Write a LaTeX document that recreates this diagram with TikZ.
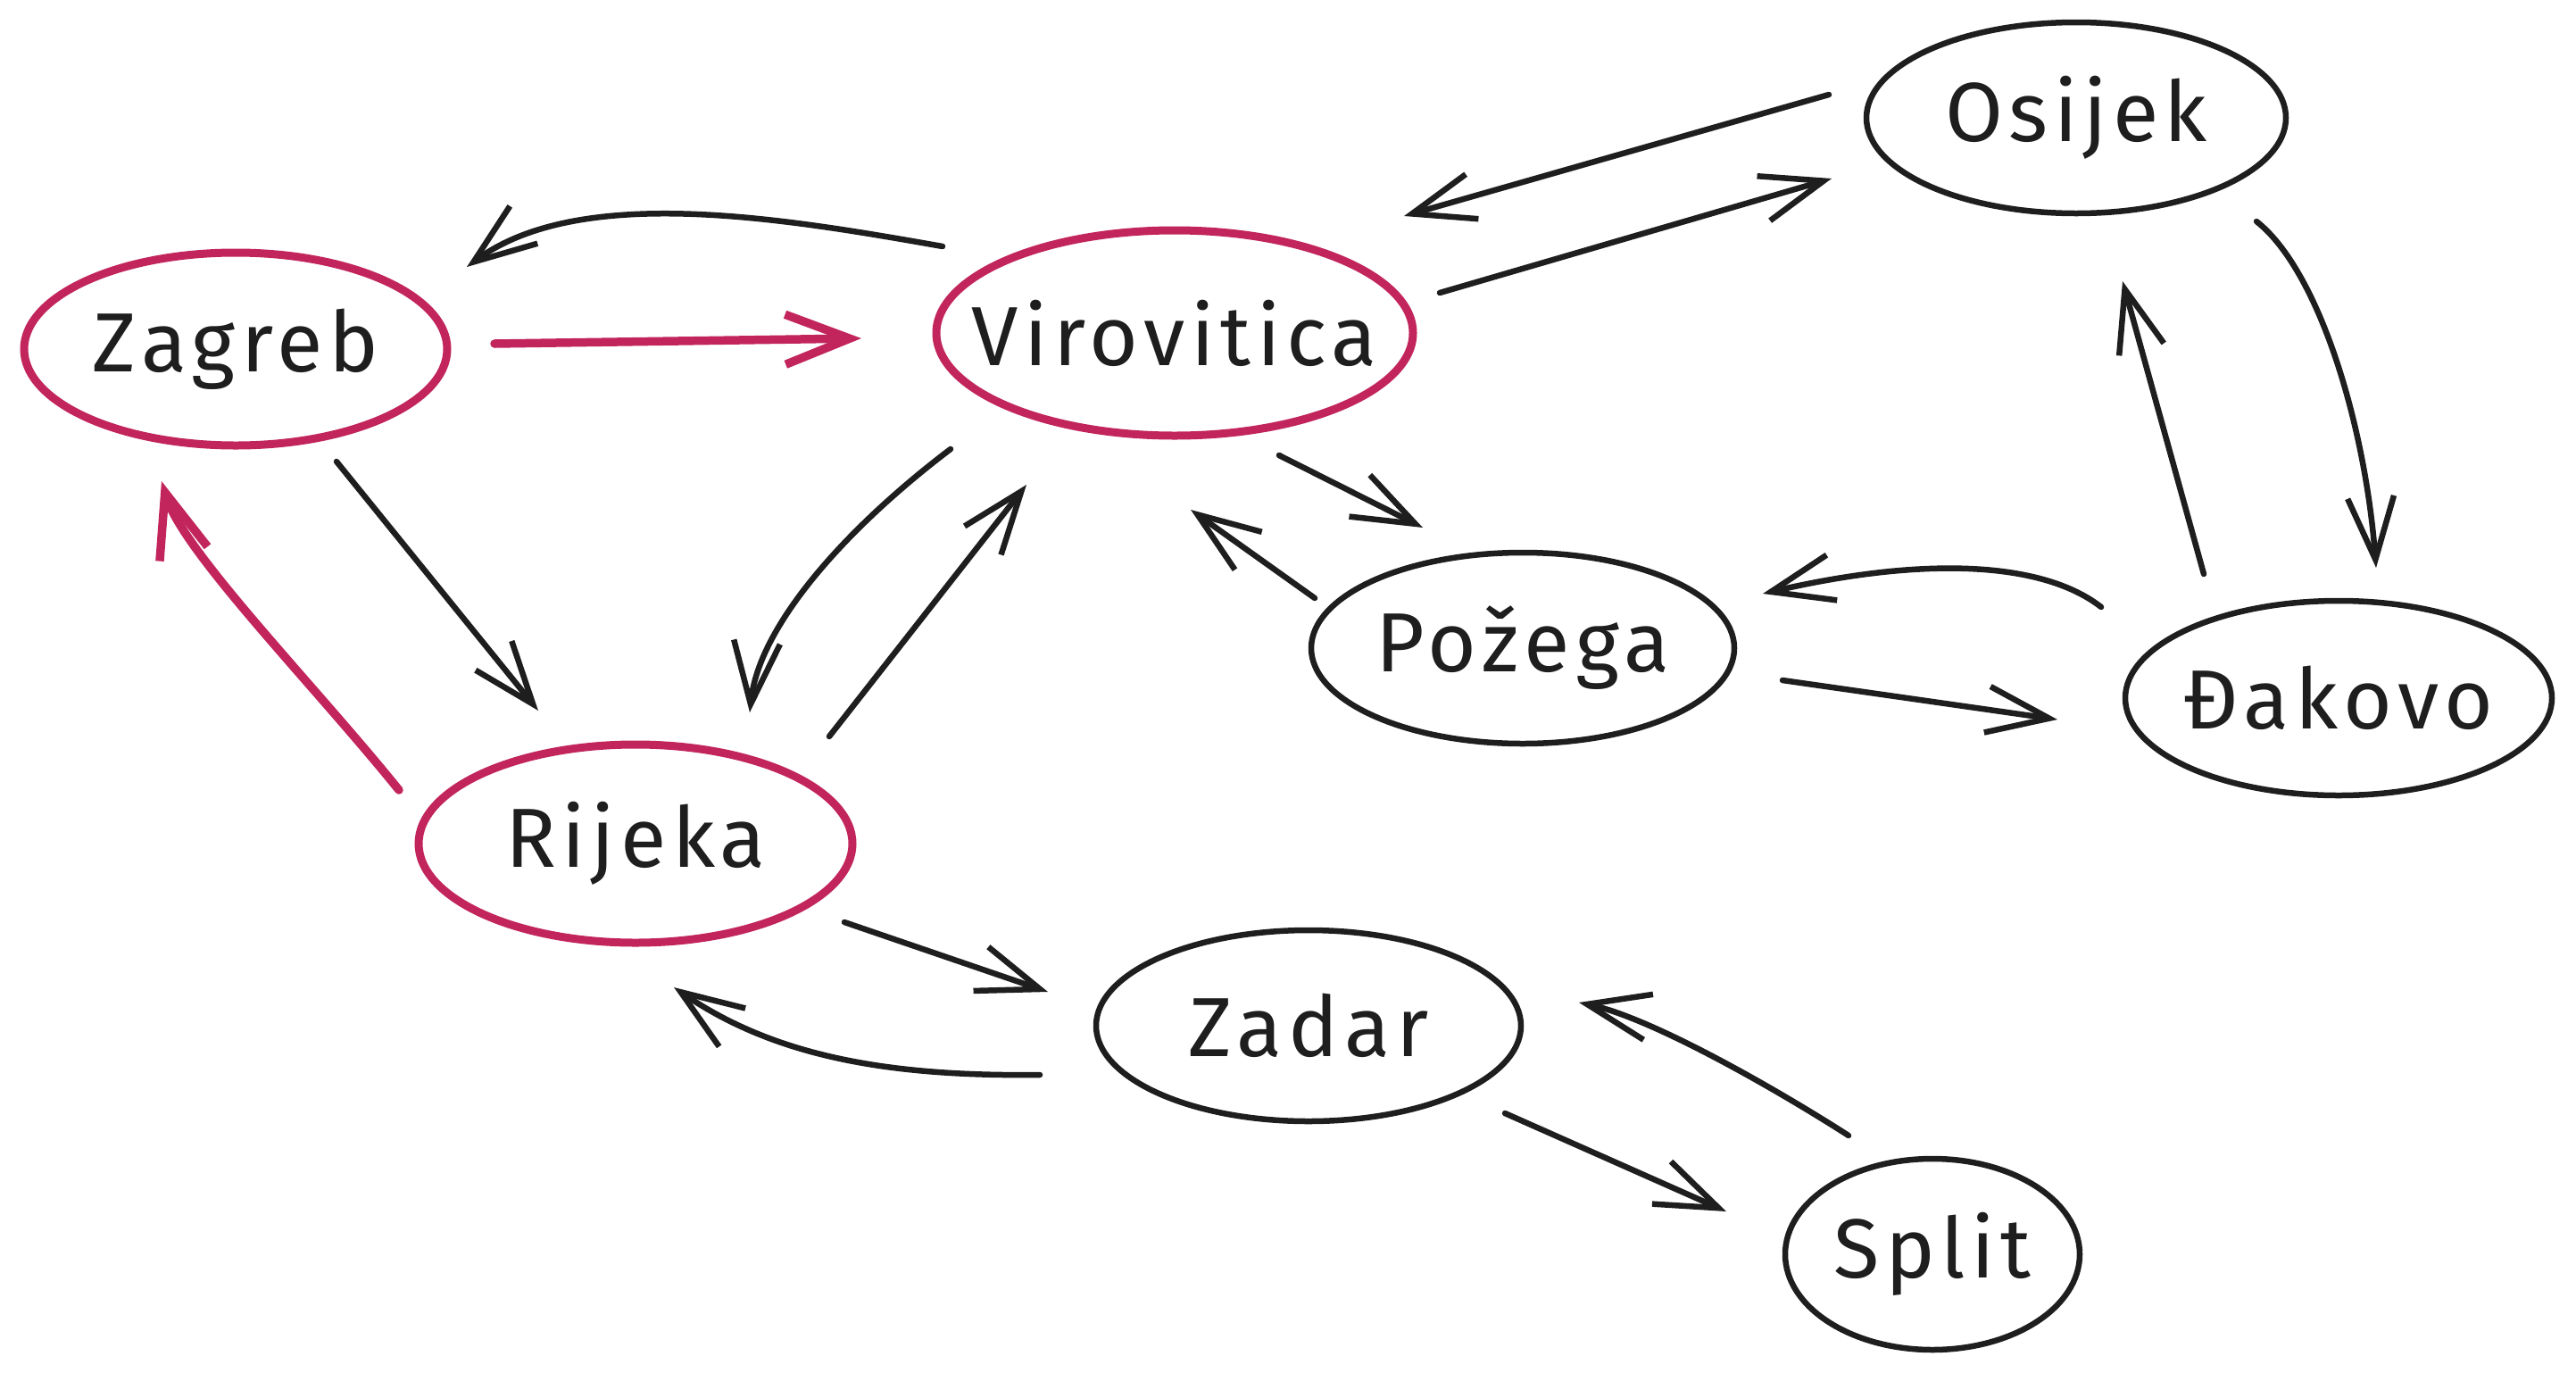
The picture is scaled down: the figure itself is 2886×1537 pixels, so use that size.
\documentclass[tikz,border=0pt]{standalone}
\usepackage{fontspec}
\setmainfont{Fira Sans}[LetterSpace=7]
\usetikzlibrary{arrows.meta,calc,shapes.geometric}
\definecolor{ink}{HTML}{1E1E1E}
\definecolor{rose}{HTML}{C2255C}
\newcommand\cityname[1]{\makebox[0pt]{#1}}
\begin{document}
\begin{tikzpicture}[x=1pt,y=-1pt,
 city/.style={ellipse,draw=ink,line width=6.5pt,inner sep=0pt,text=ink,font=\fontsize{94}{100}\selectfont},
 hot/.style={city,draw=rose,line width=9pt},
 edge/.style={draw=ink,line width=6.5pt,line cap=round,line join=round,-{Straight Barb[length=70pt,width=52pt]}},
 hotedge/.style={edge,draw=rose,line width=9.5pt,-{Straight Barb[length=72pt,width=56pt]}}]
\useasboundingbox[fill=white] (0,0) rectangle (2886,1537);

\node[hot,minimum width=474pt,minimum height=216pt] (zag) at (264,391) {\cityname{Zagreb}};
\node[hot,minimum width=534pt,minimum height=230pt] (vir) at (1316,373) {\cityname{Virovitica}};
\node[city,minimum width=470pt,minimum height=214pt] (osi) at (2326,132) {\cityname{Osijek}};
\node[city,minimum width=474pt,minimum height=214pt] (poz) at (1706,726) {\cityname{Požega}};
\node[city,minimum width=478pt,minimum height=218pt] (dak) at (2620,782) {\cityname{Đakovo}};
\node[hot,minimum width=486pt,minimum height=222pt] (rij) at (712,945) {\cityname{Rijeka}};
\node[city,minimum width=476pt,minimum height=214pt] (zad) at (1466,1149) {\cityname{Zadar}};
\node[city,minimum width=330pt,minimum height=214pt] (spl) at (2165,1405) {\cityname{Split}};

% Virovitica -> Zagreb
\draw[edge] ($(vir)+(-260,-97)$) .. controls +(-176,-31) and +(127,-94) .. ($(zag)+(259,-92)$);
% Zagreb -> Virovitica
\draw[hotedge] ($(zag)+(290,-6)$) -- ($(vir)+(-351,6)$);
% Zagreb -> Rijeka
\draw[edge] ($(zag)+(113,126)$) -- ($(rij)+(-109,-149)$);
% Rijeka -> Zagreb
\draw[hotedge] ($(rij)+(-265,-60)$) .. controls +(-97,-120) and +(24,79) .. ($(zag)+(-83,148)$);
% Virovitica -> Rijeka
\draw[edge] ($(vir)+(-251,130)$) .. controls +(-115,87) and +(10,-98) .. ($(rij)+(128,-147)$);
% Rijeka -> Virovitica
\draw[edge] ($(rij)+(217,-120)$) -- ($(vir)+(-166,170)$);
% Virovitica -> Osijek
\draw[edge] ($(vir)+(297,-45)$) -- ($(osi)+(-274,68)$);
% Osijek -> Virovitica
\draw[edge] ($(osi)+(-277,-26)$) -- ($(vir)+(257,-131)$);
% Osijek -> Djakovo
\draw[edge] ($(osi)+(202,116)$) .. controls +(70,55) and +(-12,-160) .. ($(dak)+(42,-146)$);
% Djakovo -> Osijek
\draw[edge] ($(dak)+(-151,-139)$) -- ($(osi)+(52,183)$);
% Virovitica -> Pozega
\draw[edge] ($(vir)+(117,137)$) -- ($(poz)+(-112,-135)$);
% Pozega -> Virovitica
\draw[edge] ($(poz)+(-233,-56)$) -- ($(vir)+(18,198)$);
% Djakovo -> Pozega
\draw[edge] ($(dak)+(-266,-102)$) .. controls +(-64,-50) and +(185,-43) .. ($(poz)+(269,-61)$);
% Pozega -> Djakovo
\draw[edge] ($(poz)+(291,36)$) -- ($(dak)+(-315,24)$);
% Rijeka -> Zadar
\draw[edge] ($(rij)+(234,88)$) -- ($(zad)+(-292,-38)$);
% Zadar -> Rijeka
\draw[edge] ($(zad)+(-301,55)$) .. controls +(-165,2) and +(115,79) .. ($(rij)+(43,161)$);
% Zadar -> Split
\draw[edge] ($(zad)+(220,98)$) -- ($(spl)+(-231,-48)$);
% Split -> Zadar
\draw[edge] ($(spl)+(-94,-133)$) .. controls +(-81,-52) and +(81,17) .. ($(zad)+(303,-26)$);
\end{tikzpicture}
\end{document}
